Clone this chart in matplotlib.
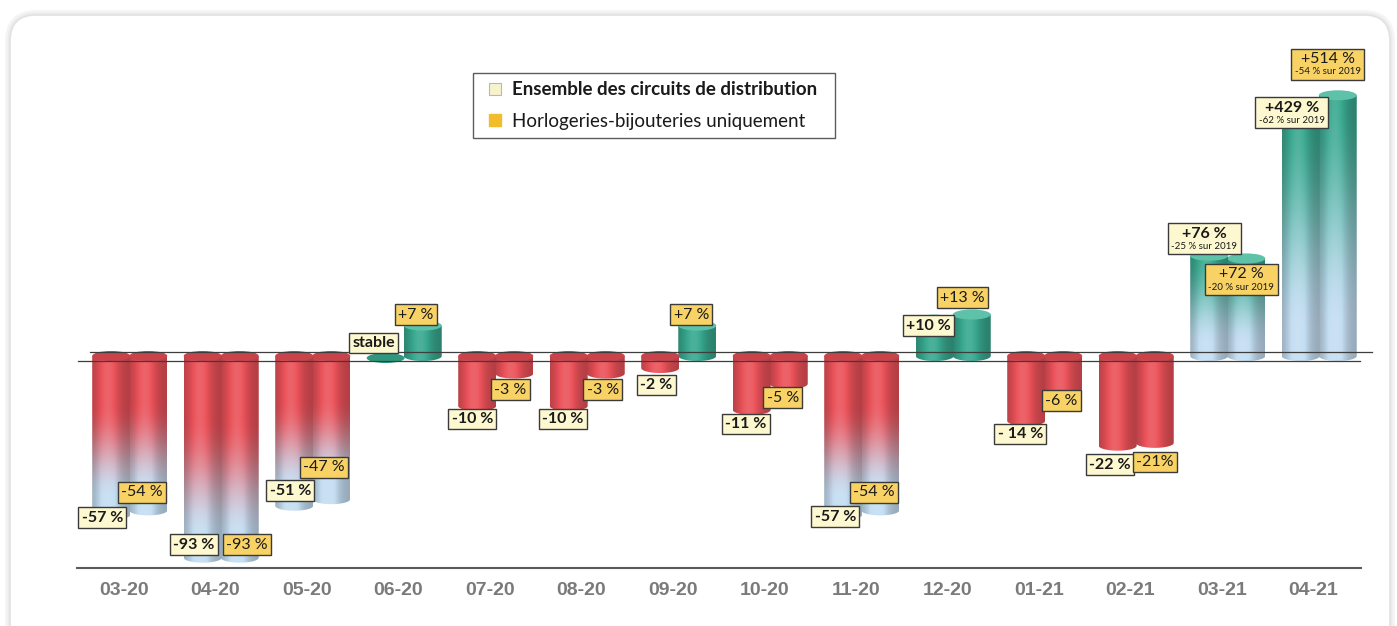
import numpy as np
import matplotlib.pyplot as plt
from matplotlib.patches import Ellipse, Polygon, FancyBboxPatch
from matplotlib.lines import Line2D
from matplotlib.scale import FuncScale
from matplotlib.transforms import IdentityTransform, offset_copy
from matplotlib.offsetbox import TextArea, VPacker, AnnotationBbox

# data (evolution in %)
months = ['03-20', '04-20', '05-20', '06-20', '07-20', '08-20', '09-20',
          '10-20', '11-20', '12-20', '01-21', '02-21', '03-21', '04-21']
ensemble = [-57, -93, -51, 0, -10, -10, -2, -11, -57, 10, -14, -22, 76, 429]
horlogerie = [-54, -93, -47, 7, -3, -3, 7, -5, -54, 13, -6, -21, 72, 514]
ensemble_labels = ['-57 %', '-93 %', '-51 %', 'stable', '-10 %', '-10 %', '-2 %',
                   '-11 %', '-57 %', '+10 %', '- 14 %', '-22 %', '+76 %', '+429 %']
horlogerie_labels = ['-54 %', '-93 %', '-47 %', '+7 %', '-3 %', '-3 %', '+7 %',
                     '-5 %', '-54 %', '+13 %', '-6 %', '-21%', '+72 %', '+514 %']
ensemble_2019 = [None] * 12 + ['-25 % sur 2019', '-62 % sur 2019']
horlogerie_2019 = [None] * 12 + ['-20 % sur 2019', '-54 % sur 2019']
legend_labels = ['Ensemble des circuits de distribution', 'Horlogeries-bijouteries uniquement']

# label placement (pixels from the bar end, y downwards)
ens_off = [(-9, 3), (-9, -13), (-4, -15), (-12, -13), (-5, 13), (-6, 13), (-4, 17),
           (-6, 14), (-8, 2), (-6, 6), (-6, 13), (-8, 19), (-5, -17), (-9, -5)]
hor_off = [(-6, -18), (7, -13), (-7, -32), (-7, -11), (-4, 16), (-3, 16), (-6, -11),
           (-6, 14), (-6, -18), (-9, -17), (-2, 12), (0, 19), (-5, 21), (-10, -31)]

FONT = ['Lato', 'DejaVu Sans']
RED = np.array([0.92, 0.32, 0.35])
RED_TOP = '#c9434a'
BLUE = np.array([0.77, 0.87, 0.95])
TEAL = np.array([0.22, 0.66, 0.56])
TEAL_TOP = '#5ec2a9'
W = 0.415
EH = 5.0


# compressed vertical scale, as in the original drawing
def fwd(v):
    v = np.asarray(v, dtype=float)
    return np.where(v >= 0, 11.5 * np.sqrt(np.abs(v)), -108 * np.log1p(np.abs(v) / 17))


def inv(y):
    y = np.asarray(y, dtype=float)
    return np.where(y >= 0, (y / 11.5) ** 2, -17 * np.expm1(np.minimum(np.abs(y), 2000) / 108))


def smooth(a):
    a = np.clip(a, 0, 1)
    return a * a * (3 - 2 * a)


fig = plt.figure(figsize=(13.97, 6.26), dpi=100)
fig.patch.set_facecolor('white')

# rounded card with soft shadow
for lw, ec in [(7, '#f4f4f4'), (3.5, '#ebebeb'), (1.2, '#e2e2e2')]:
    card = FancyBboxPatch((10, -60), 1380, 671, boxstyle='round,pad=0,rounding_size=26',
                          transform=IdentityTransform(), facecolor='white', edgecolor=ec,
                          linewidth=lw, zorder=-5)
    fig.add_artist(card)

ax = fig.add_axes([77 / 1397, 58 / 626, 1284 / 1397, 538 / 626])
ax.set_facecolor('none')
ax.set_yscale(FuncScale(ax.yaxis, (fwd, inv)))
ax.set_xlim(-0.5137, 13.519)
ax.set_ylim(float(inv(-212)), float(inv(326)))
ax.set_autoscale_on(False)


def row_colors(v, frac):
    # frac: 0 at the zero line, 1 at the end of the bar
    if abs(v) < 30:
        base = RED if v < 0 else TEAL
        return np.tile(base, (len(frac), 1))
    if v < 0:
        a = smooth((frac - 0.3) / 0.6)[:, None]
        return RED * (1 - a) + BLUE * a
    a = smooth(frac * 1.1 - 0.1)[:, None]
    return BLUE * (1 - a) + TEAL * a


def cylinder(xc, v, z):
    xl, xr = xc - W / 2, xc + W / 2
    pxl, py0 = ax.transData.transform((xl, 0))
    pxr, _ = ax.transData.transform((xr, 0))
    py1 = ax.transData.transform((xl, v))[1]
    cx, rx = (pxl + pxr) / 2, (pxr - pxl) / 2
    if v == 0:
        ax.add_patch(Ellipse((cx, py0 - 2), 2 * rx, 2 * EH, transform=IdentityTransform(),
                             facecolor='#2f977d', edgecolor='none', zorder=z))
        return
    ya, yb = min(py0, py1), max(py0, py1)
    top = RED_TOP if v < 0 else TEAL_TOP

    th = np.linspace(np.pi, 2 * np.pi, 50)
    lower = np.column_stack([cx + rx * np.cos(th), ya + EH * np.sin(th)])
    outline = np.vstack([[pxl, yb], lower, [pxr, yb]])
    clip = Polygon(outline, closed=True, transform=IdentityTransform())

    ny = int(yb - ya + EH + 3)
    ys = np.linspace(yb, ya - EH - 1, ny)
    frac = np.clip((ys - py0) / (py1 - py0), 0, 1)
    rows = row_colors(v, frac)
    t = np.linspace(0, 1, 60)
    s = 0.76 + 0.34 * np.exp(-((t - 0.42) / 0.3) ** 2)
    img = rows[:, None, :] * np.minimum(s, 1)[None, :, None]
    bright = np.clip(s - 1, 0, None)[None, :, None]
    img = np.clip(img + (1 - img) * bright, 0, 1)
    im = ax.imshow(img, extent=(pxl, pxr, ya - EH - 1, yb), transform=IdentityTransform(),
                   aspect='auto', interpolation='bilinear', zorder=z)
    im.set_clip_path(clip)
    ax.add_patch(Ellipse((cx, yb), 2 * rx, 2 * EH, transform=IdentityTransform(),
                         facecolor=top, edgecolor='none', zorder=z + 0.05))


x = np.arange(len(months))
for i in range(len(months)):
    cylinder(x[i] + 0.265, horlogerie[i], 2)
    cylinder(x[i] - 0.14, ensemble[i], 3)

# floor lines
ax.plot([-0.372, 13.64], [0, 0], color='#3d3d3d', lw=0.9, zorder=5, clip_on=False,
        transform=offset_copy(ax.transData, fig=fig, y=4, units='dots'))
ax.plot([-0.503, 13.51], [0, 0], color='#3d3d3d', lw=0.9, zorder=5, clip_on=False,
        transform=offset_copy(ax.transData, fig=fig, y=-5, units='dots'))


def label(xp, v, txt, sub, off, face, weight):
    kids = [TextArea(txt, textprops=dict(fontsize=11.5, fontweight=weight, family=FONT, color='#1a1a1a'))]
    if sub:
        kids.append(TextArea(sub, textprops=dict(fontsize=7, family=FONT, color='#1a1a1a')))
    box = VPacker(children=kids, align='center', pad=0, sep=1)
    ab = AnnotationBbox(box, (xp, v), xybox=(off[0], -off[1]), xycoords='data',
                        boxcoords='offset pixels', frameon=True, pad=0.22, fontsize=11,
                        bboxprops=dict(facecolor=face, edgecolor='#3a3a3a', linewidth=1.0),
                        zorder=10, annotation_clip=False)
    ax.add_artist(ab)


for i in range(len(months)):
    label(x[i] - 0.14, ensemble[i], ensemble_labels[i], ensemble_2019[i], ens_off[i], '#fdf8cf', 'bold')
    label(x[i] + 0.265, horlogerie[i], horlogerie_labels[i], horlogerie_2019[i], hor_off[i], '#f8d264', 'normal')

ax.set_xticks(x)
ax.set_xticklabels(months, fontsize=14, fontweight='bold', color='#7a7a7a', family='Liberation Sans')
ax.tick_params(axis='x', length=0, pad=10)
ax.set_yticks([])
ax.yaxis.set_minor_locator(plt.NullLocator())
for sp in ['left', 'right', 'top']:
    ax.spines[sp].set_visible(False)
ax.spines['bottom'].set_color('#5a5a5a')
ax.spines['bottom'].set_linewidth(1.5)

handles = [Line2D([], [], marker='s', ls='none', markersize=8, markerfacecolor='#f6f3cf',
                  markeredgecolor='#b9b9a5', markeredgewidth=0.8),
           Line2D([], [], marker='s', ls='none', markersize=8, markerfacecolor='#f2bd2d',
                  markeredgecolor='#f2bd2d')]
leg = fig.legend(handles, legend_labels, loc='upper left',
                 bbox_to_anchor=(473 / 1397, 1 - 137 / 626, 362 / 1397, 64 / 626), mode='expand',
                 frameon=True, fancybox=False, edgecolor='#333333', prop=dict(family=FONT, size=13.5),
                 handlelength=1.4, handletextpad=0.25, borderpad=0.45, labelspacing=0.75, borderaxespad=0)
leg.get_frame().set_linewidth(1.0)
leg.get_texts()[0].set_fontweight('bold')
for t in leg.get_texts():
    t.set_color('#1a1a1a')

fig.savefig('out.png', dpi=100)
